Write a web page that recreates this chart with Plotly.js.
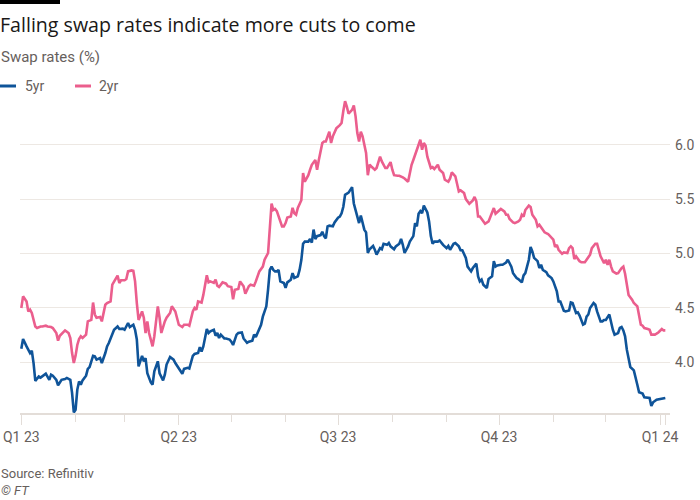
<!DOCTYPE html>
<html><head><meta charset="utf-8">
<script src="https://cdn.plot.ly/plotly-3.0.1.min.js"></script>
<style>html,body{margin:0;padding:0;background:#fff;}#chart{width:700px;height:500px;}</style>
</head><body><div id="chart"></div>
<script>
const dates5 = ["2023-01-01","2023-01-02","2023-01-04","2023-01-06","2023-01-07","2023-01-08","2023-01-09","2023-01-11","2023-01-12","2023-01-14","2023-01-15","2023-01-17","2023-01-18","2023-01-19","2023-01-21","2023-01-22","2023-01-24","2023-01-26","2023-01-27","2023-01-29","2023-01-30","2023-01-31",
"2023-02-01","2023-02-02","2023-02-03","2023-02-04","2023-02-05","2023-02-07","2023-02-08","2023-02-09","2023-02-11","2023-02-12","2023-02-13","2023-02-15","2023-02-16","2023-02-18","2023-02-19","2023-02-20","2023-02-22","2023-02-23","2023-02-25","2023-02-26","2023-02-28",
"2023-03-01","2023-03-03","2023-03-04","2023-03-06","2023-03-07","2023-03-08","2023-03-09","2023-03-11","2023-03-12","2023-03-13","2023-03-14","2023-03-16","2023-03-17","2023-03-18","2023-03-20","2023-03-21","2023-03-23","2023-03-24","2023-03-25","2023-03-27","2023-03-29","2023-03-30",
"2023-04-01","2023-04-03","2023-04-04","2023-04-06","2023-04-07","2023-04-09","2023-04-10","2023-04-12","2023-04-13","2023-04-14","2023-04-15","2023-04-17","2023-04-18","2023-04-19","2023-04-21","2023-04-22","2023-04-23","2023-04-24","2023-04-25","2023-04-27","2023-04-28","2023-04-30",
"2023-05-01","2023-05-02","2023-05-04","2023-05-05","2023-05-07","2023-05-08","2023-05-10","2023-05-11","2023-05-13","2023-05-14","2023-05-15","2023-05-17","2023-05-18","2023-05-19","2023-05-21","2023-05-22","2023-05-23","2023-05-24","2023-05-25","2023-05-26","2023-05-27","2023-05-28","2023-05-29","2023-05-31",
"2023-06-01","2023-06-02","2023-06-04","2023-06-05","2023-06-06","2023-06-08","2023-06-09","2023-06-10","2023-06-11","2023-06-12","2023-06-14","2023-06-15","2023-06-16","2023-06-17","2023-06-18","2023-06-19","2023-06-21","2023-06-22","2023-06-23","2023-06-24","2023-06-25","2023-06-26","2023-06-28","2023-06-29",
"2023-07-01","2023-07-02","2023-07-03","2023-07-04","2023-07-05","2023-07-07","2023-07-08","2023-07-09","2023-07-10","2023-07-12","2023-07-13","2023-07-14","2023-07-15","2023-07-16","2023-07-17","2023-07-18","2023-07-19","2023-07-21","2023-07-22","2023-07-23","2023-07-25","2023-07-26","2023-07-27","2023-07-29","2023-07-30","2023-07-31",
"2023-08-02","2023-08-03","2023-08-05","2023-08-06","2023-08-07","2023-08-08","2023-08-10","2023-08-11","2023-08-13","2023-08-14","2023-08-15","2023-08-16","2023-08-17","2023-08-18","2023-08-19","2023-08-21","2023-08-22","2023-08-23","2023-08-24","2023-08-25","2023-08-27","2023-08-28","2023-08-30",
"2023-09-01","2023-09-02","2023-09-03","2023-09-05","2023-09-06","2023-09-08","2023-09-09","2023-09-10","2023-09-12","2023-09-13","2023-09-15","2023-09-16","2023-09-18","2023-09-19","2023-09-20","2023-09-21","2023-09-22","2023-09-24","2023-09-25","2023-09-27","2023-09-28","2023-09-29","2023-09-30",
"2023-10-02","2023-10-03","2023-10-05","2023-10-06","2023-10-08","2023-10-09","2023-10-11","2023-10-12","2023-10-14","2023-10-15","2023-10-16","2023-10-18","2023-10-19","2023-10-20","2023-10-21","2023-10-23","2023-10-24","2023-10-25","2023-10-26","2023-10-28","2023-10-29","2023-10-31",
"2023-11-01","2023-11-03","2023-11-04","2023-11-05","2023-11-07","2023-11-08","2023-11-10","2023-11-11","2023-11-12","2023-11-14","2023-11-15","2023-11-16","2023-11-18","2023-11-19","2023-11-20","2023-11-21","2023-11-22","2023-11-24","2023-11-25","2023-11-26","2023-11-28","2023-11-29","2023-11-30",
"2023-12-01","2023-12-03","2023-12-04","2023-12-05","2023-12-06","2023-12-08","2023-12-09","2023-12-10","2023-12-11","2023-12-12","2023-12-13","2023-12-14","2023-12-15","2023-12-17","2023-12-18","2023-12-19","2023-12-20","2023-12-22","2023-12-23","2023-12-25","2023-12-26","2023-12-27","2023-12-28","2023-12-30",
"2024-01-01","2024-01-03","2024-01-04"];
const swap5yr = [4.126,4.215,4.147,4.086,4.107,3.994,3.83,3.87,3.86,3.88,3.896,3.84,3.887,3.878,3.84,3.79,3.84,3.847,3.857,3.84,3.72,3.54,
3.565,3.75,3.825,3.795,3.835,3.878,3.94,3.957,4.06,4.055,4.025,4.04,3.994,4.086,4.147,4.178,4.255,4.30,4.33,4.307,4.31,
4.30,4.362,4.325,4.346,4.30,4.21,3.963,4.06,4.01,4.04,3.90,3.816,3.795,3.917,4.01,3.90,3.835,3.887,3.98,4.05,4.025,3.994,
3.95,3.896,3.94,3.95,3.944,4.06,4.077,4.086,4.14,4.10,4.147,4.307,4.27,4.285,4.30,4.245,4.27,4.224,4.255,4.22,4.22,4.21,
4.19,4.16,4.255,4.27,4.275,4.22,4.18,4.19,4.20,4.255,4.233,4.307,4.346,4.42,4.515,4.668,4.85,4.88,4.85,4.836,4.836,4.85,4.744,4.73,
4.684,4.735,4.76,4.82,4.775,4.79,4.85,4.94,5.09,5.11,5.11,5.134,5.10,5.22,5.134,5.16,5.17,5.20,5.16,5.14,5.25,5.256,5.25,5.286,
5.33,5.34,5.37,5.43,5.54,5.56,5.59,5.61,5.46,5.34,5.28,5.35,5.28,5.22,5.195,5.005,5.04,5.07,5.035,4.99,5.05,5.04,5.09,5.08,5.097,5.066,
5.04,5.066,5.09,5.134,5.08,5.005,5.066,5.11,5.16,5.28,5.25,5.366,5.39,5.37,5.44,5.378,5.295,5.16,5.09,5.11,5.11,5.12,5.08,
5.05,5.07,5.035,5.09,5.097,5.066,5.03,5.03,4.96,4.88,4.836,4.867,4.907,4.79,4.744,4.76,4.714,4.684,4.766,4.79,4.93,4.88,4.89,
4.897,4.897,4.918,4.943,4.88,4.82,4.775,4.766,4.735,4.80,4.82,4.943,5.06,5.02,4.96,4.93,4.867,4.897,4.85,4.83,4.80,4.775,
4.744,4.652,4.56,4.56,4.475,4.468,4.477,4.55,4.545,4.454,4.46,4.43,4.346,4.355,4.42,4.44,4.50,4.545,4.53,4.468,4.377,4.377,4.39,
4.39,4.44,4.362,4.30,4.255,4.27,4.316,4.325,4.294,4.24,4.117,4.03,3.957,3.927,3.87,3.795,3.725,3.713,3.68,3.673,3.673,3.60,3.633,3.657,
3.664,3.673,3.673];

const dates2 = ["2023-01-01","2023-01-02","2023-01-04","2023-01-05","2023-01-06","2023-01-07","2023-01-09","2023-01-10","2023-01-12","2023-01-13","2023-01-15","2023-01-16","2023-01-18","2023-01-19","2023-01-21","2023-01-22","2023-01-23","2023-01-25","2023-01-26","2023-01-28","2023-01-29","2023-01-30","2023-01-31",
"2023-02-01","2023-02-02","2023-02-03","2023-02-04","2023-02-05","2023-02-07","2023-02-08","2023-02-10","2023-02-11","2023-02-12","2023-02-13","2023-02-15","2023-02-16","2023-02-18","2023-02-19","2023-02-21","2023-02-22","2023-02-24","2023-02-25","2023-02-26","2023-02-27",
"2023-03-01","2023-03-02","2023-03-03","2023-03-05","2023-03-06","2023-03-07","2023-03-08","2023-03-09","2023-03-11","2023-03-12","2023-03-13","2023-03-14","2023-03-15","2023-03-16","2023-03-17","2023-03-18","2023-03-20","2023-03-21","2023-03-22","2023-03-24","2023-03-25","2023-03-27","2023-03-28","2023-03-30","2023-03-31",
"2023-04-01","2023-04-03","2023-04-04","2023-04-06","2023-04-07","2023-04-09","2023-04-10","2023-04-11","2023-04-12","2023-04-14","2023-04-15","2023-04-17","2023-04-18","2023-04-19","2023-04-21","2023-04-22","2023-04-23","2023-04-24","2023-04-26","2023-04-28","2023-04-29",
"2023-05-01","2023-05-02","2023-05-03","2023-05-05","2023-05-06","2023-05-08","2023-05-09","2023-05-11","2023-05-12","2023-05-14","2023-05-15","2023-05-16","2023-05-17","2023-05-19","2023-05-20","2023-05-22","2023-05-23","2023-05-24","2023-05-25","2023-05-26","2023-05-27","2023-05-28","2023-05-30","2023-05-31",
"2023-06-01","2023-06-02","2023-06-04","2023-06-05","2023-06-06","2023-06-07","2023-06-08","2023-06-10","2023-06-11","2023-06-12","2023-06-13","2023-06-14","2023-06-15","2023-06-16","2023-06-18","2023-06-19","2023-06-20","2023-06-21","2023-06-22","2023-06-23","2023-06-24","2023-06-26","2023-06-27","2023-06-28","2023-06-29","2023-06-30",
"2023-07-02","2023-07-03","2023-07-04","2023-07-05","2023-07-06","2023-07-07","2023-07-09","2023-07-10","2023-07-11","2023-07-12","2023-07-13","2023-07-14","2023-07-15","2023-07-16","2023-07-17","2023-07-18","2023-07-19","2023-07-20","2023-07-22","2023-07-23","2023-07-24","2023-07-25","2023-07-26","2023-07-28","2023-07-29","2023-07-30","2023-07-31",
"2023-08-01","2023-08-02","2023-08-04","2023-08-05","2023-08-07","2023-08-08","2023-08-10","2023-08-11","2023-08-12","2023-08-13","2023-08-14","2023-08-15","2023-08-16","2023-08-17","2023-08-18","2023-08-19","2023-08-20","2023-08-21","2023-08-23","2023-08-24","2023-08-25","2023-08-27","2023-08-28","2023-08-30","2023-08-31",
"2023-09-02","2023-09-03","2023-09-04","2023-09-06","2023-09-07","2023-09-08","2023-09-09","2023-09-11","2023-09-12","2023-09-14","2023-09-16","2023-09-17","2023-09-18","2023-09-19","2023-09-20","2023-09-22","2023-09-23","2023-09-25","2023-09-26","2023-09-27","2023-09-28","2023-09-29",
"2023-10-01","2023-10-02","2023-10-04","2023-10-05","2023-10-06","2023-10-07","2023-10-09","2023-10-10","2023-10-12","2023-10-13","2023-10-14","2023-10-15","2023-10-16","2023-10-18","2023-10-19","2023-10-20","2023-10-22","2023-10-23","2023-10-24","2023-10-26","2023-10-27","2023-10-29","2023-10-30",
"2023-11-01","2023-11-02","2023-11-03","2023-11-04","2023-11-06","2023-11-07","2023-11-09","2023-11-10","2023-11-11","2023-11-12","2023-11-13","2023-11-14","2023-11-16","2023-11-17","2023-11-19","2023-11-20","2023-11-22","2023-11-23","2023-11-25","2023-11-26","2023-11-27","2023-11-28","2023-11-30",
"2023-12-01","2023-12-02","2023-12-03","2023-12-04","2023-12-05","2023-12-07","2023-12-08","2023-12-10","2023-12-11","2023-12-12","2023-12-13","2023-12-14","2023-12-16","2023-12-17","2023-12-19","2023-12-20","2023-12-21","2023-12-22","2023-12-23","2023-12-25","2023-12-26","2023-12-27","2023-12-29","2023-12-30","2023-12-31",
"2024-01-02","2024-01-03","2024-01-04"];
const swap2yr = [4.50,4.607,4.56,4.468,4.484,4.454,4.33,4.316,4.33,4.33,4.337,4.33,4.325,4.316,4.27,4.20,4.245,4.276,4.294,4.27,4.224,4.086,3.994,
4.06,4.16,4.215,4.24,4.224,4.255,4.377,4.39,4.55,4.44,4.41,4.417,4.377,4.53,4.545,4.56,4.714,4.775,4.797,4.73,4.755,
4.755,4.766,4.836,4.845,4.842,4.744,4.545,4.39,4.468,4.41,4.27,4.377,4.27,4.193,4.147,4.24,4.515,4.41,4.27,4.377,4.41,4.454,4.515,4.468,4.41,
4.346,4.325,4.346,4.346,4.337,4.468,4.50,4.484,4.56,4.55,4.62,4.80,4.735,4.744,4.73,4.76,4.705,4.693,4.735,4.723,4.70,
4.693,4.58,4.667,4.675,4.744,4.70,4.63,4.70,4.714,4.705,4.744,4.797,4.836,4.88,4.943,5.005,5.22,5.46,5.40,5.41,5.39,5.34,5.25,5.25,
5.28,5.33,5.34,5.42,5.37,5.357,5.42,5.49,5.74,5.66,5.69,5.72,5.77,5.816,5.86,5.77,5.86,5.94,6.016,6.03,6.03,6.12,6.016,6.077,6.12,6.15,
6.18,6.20,6.31,6.40,6.35,6.285,6.32,6.36,6.26,6.107,6.03,6.12,6.077,6.00,5.924,5.72,5.816,5.80,5.77,5.786,5.83,5.89,5.846,5.786,5.786,5.816,5.84,
5.77,5.72,5.715,5.715,5.70,5.69,5.66,5.755,5.816,5.86,5.908,5.954,6.00,6.046,5.954,6.016,5.99,5.89,5.786,5.795,5.777,5.816,5.77,5.74,5.678,
5.66,5.69,5.746,5.71,5.633,5.57,5.58,5.556,5.50,5.457,5.488,5.52,5.48,5.34,5.34,5.295,5.274,5.295,5.34,5.387,5.418,5.366,
5.40,5.41,5.387,5.357,5.357,5.317,5.286,5.28,5.295,5.31,5.357,5.34,5.40,5.44,5.428,5.357,5.31,5.25,5.265,5.22,5.195,5.18,5.164,
5.127,5.06,5.08,5.035,4.998,5.01,5.005,5.05,5.066,5.05,4.95,4.974,4.93,4.92,4.92,4.943,4.99,5.05,5.09,5.09,5.03,4.974,4.913,
4.943,4.897,4.943,4.88,4.836,4.815,4.82,4.867,4.88,4.815,4.70,4.62,4.576,4.545,4.515,4.44,4.346,4.337,4.316,4.307,4.30,4.255,4.255,4.264,4.275,
4.307,4.294,4.294];

const quarterTicks = ["2023-01-01","2023-04-01","2023-07-01","2023-10-01","2024-01-01","2024-01-04"];
const quarterLabels = ["Q1 23","Q2 23","Q3 23","Q4 23","Q1 24",""];
const monthTicks = ["2023-02-01","2023-03-01","2023-05-01","2023-06-01","2023-08-01","2023-09-01","2023-11-01","2023-12-01"];
const yTicks = [4.0, 4.5, 5.0, 5.5, 6.0];
const seriesNames = ["5yr", "2yr"];
const seriesColors = ["#0f5499", "#eb5e8d"];

const FONT = "Roboto, 'Liberation Sans', sans-serif";
const TITLE_FONT = "'Open Sans', Roboto, sans-serif";
const GREY = "#66605c";

// pixel helpers for layout placement (plot area: x 20..670, y 99..413)
const px = x => (x - 20) / 650;
const py = y => (413 - y) / 314;

const traces = [
  {x: dates2, y: swap2yr, name: seriesNames[1], type: "scatter", mode: "lines",
   line: {color: seriesColors[1], width: 2.6, shape: "linear"}},
  {x: dates5, y: swap5yr, name: seriesNames[0], type: "scatter", mode: "lines",
   line: {color: seriesColors[0], width: 2.6, shape: "linear"}}
];

const layout = {
  width: 700, height: 500,
  paper_bgcolor: "#ffffff", plot_bgcolor: "#ffffff",
  margin: {l: 20, r: 30, t: 99, b: 87, pad: 0},
  showlegend: false,
  font: {family: FONT, color: GREY},
  title: {text: "Falling swap rates indicate more cuts to come", x: 0, xref: "container", xanchor: "left",
          y: 1 - 25 / 500, yref: "container", yanchor: "middle",
          font: {family: TITLE_FONT, size: 19.6, color: "#1a1817"}},
  xaxis: {type: "date", range: ["2022-12-31 06:00", "2024-01-06 16:00"],
          tickmode: "array", tickvals: quarterTicks, ticktext: quarterLabels,
          ticks: "outside", ticklen: 10, tickwidth: 1, tickcolor: "#e3ddd8",
          minor: {tickmode: "array", tickvals: monthTicks, ticks: "outside", ticklen: 7, tickwidth: 1, tickcolor: "#e3ddd8", showgrid: false},
          showgrid: false, zeroline: false, showline: true, linecolor: "#e3ddd8", linewidth: 2,
          tickfont: {family: FONT, size: 14, color: GREY}, fixedrange: true},
  yaxis: {side: "right", range: [3.535, 6.42], tickmode: "array", tickvals: yTicks, tickformat: ".1f",
          showgrid: true, gridcolor: "#ede8e3", gridwidth: 1, zeroline: false, showline: false, ticks: "",
          ticklabelstandoff: 4,
          tickfont: {family: FONT, size: 14, color: GREY}, fixedrange: true},
  shapes: [
    {type: "rect", xref: "paper", yref: "paper", x0: px(0), x1: px(60), y0: py(4), y1: py(0), fillcolor: "#000", line: {width: 0}},
    {type: "line", xref: "paper", yref: "paper", x0: px(0), x1: px(16), y0: py(86), y1: py(86), line: {color: seriesColors[0], width: 3}},
    {type: "line", xref: "paper", yref: "paper", x0: px(75), x1: px(91), y0: py(86), y1: py(86), line: {color: seriesColors[1], width: 3}}
  ],
  annotations: [
    {text: "Swap rates (%)", xref: "paper", yref: "paper", x: px(0), y: py(57), xanchor: "left", yanchor: "middle", showarrow: false, borderpad: 0,
     font: {family: FONT, size: 15, color: GREY}},
    {text: seriesNames[0], xref: "paper", yref: "paper", x: px(24), y: py(86), xanchor: "left", yanchor: "middle", showarrow: false, borderpad: 0,
     font: {family: FONT, size: 14, color: GREY}},
    {text: seriesNames[1], xref: "paper", yref: "paper", x: px(98), y: py(86), xanchor: "left", yanchor: "middle", showarrow: false, borderpad: 0,
     font: {family: FONT, size: 14, color: GREY}},
    {text: "Source: Refinitiv", xref: "paper", yref: "paper", x: px(0), y: py(473), xanchor: "left", yanchor: "middle", showarrow: false, borderpad: 0,
     font: {family: FONT, size: 13, color: GREY}},
    {text: "<i>© FT</i>", xref: "paper", yref: "paper", x: px(0), y: py(490), xanchor: "left", yanchor: "middle", showarrow: false, borderpad: 0,
     font: {family: FONT, size: 13, color: GREY}}
  ]
};

Plotly.newPlot("chart", traces, layout, {staticPlot: true, displayModeBar: false});
</script>
</body></html>
